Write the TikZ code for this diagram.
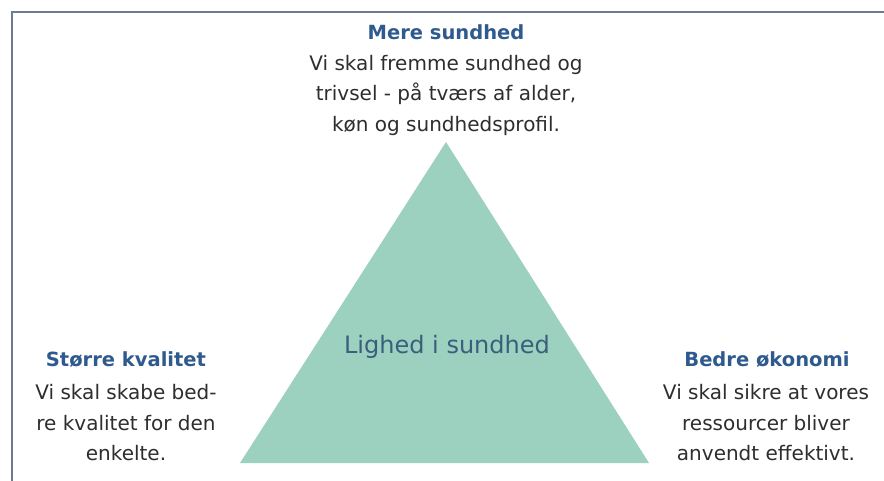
\documentclass[tikz,border=0pt]{standalone}
\usepackage{fontspec}
\setmainfont{DejaVu Sans}
\definecolor{framec}{HTML}{6E7B8E}
\definecolor{trifill}{HTML}{9CD0BF}
\definecolor{titlec}{HTML}{2F5A8E}
\definecolor{bodyc}{HTML}{2E2E2E}
\definecolor{centerc}{HTML}{3A5E7C}
\begin{document}
\begin{tikzpicture}[x=1pt,y=-1pt,
  titlestyle/.style={font=\fontsize{19.5}{23}\selectfont\bfseries, text=titlec, inner sep=0pt, anchor=center},
  bodystyle/.style={font=\fontsize{20}{30.5}\selectfont, text=bodyc, inner sep=0pt, align=center, anchor=center},
  framestyle/.style={draw=framec, line width=2pt}]
\useasboundingbox (0,0) rectangle (884,481);
\fill[white] (0,0) rectangle (884,481);
\coordinate (fl) at (12,481);
\coordinate (fc) at (12,12);
\coordinate (fr) at (884,12);
\draw[framestyle] (fl) -- (fc) -- (fr);
\coordinate (apex) at (446,142);
\coordinate (bl) at (240,463);
\coordinate (br) at (649,463);
\fill[trifill] (apex) -- (br) -- (bl) -- cycle;
\node[font=\fontsize{24}{28}\selectfont, text=centerc, inner sep=0pt] (center) at (447,347) {Lighed i sundhed};
\node[titlestyle] (ttop) at (446,32) {Mere sundhed};
\node[bodystyle] (btop) at (446,95) {Vi skal fremme sundhed og\\trivsel - på tværs af alder,\\køn og sundhedsprofil.};
\node[titlestyle] (tleft) at (126,360) {Større kvalitet};
\node[bodystyle] (bleft) at (126,423) {Vi skal skabe bed-\\re kvalitet for den\\enkelte.};
\node[titlestyle] (tright) at (767,360) {Bedre økonomi};
\node[bodystyle] (bright) at (766,423) {Vi skal sikre at vores\\ressourcer bliver\\anvendt effektivt.};
\end{tikzpicture}
\end{document}
